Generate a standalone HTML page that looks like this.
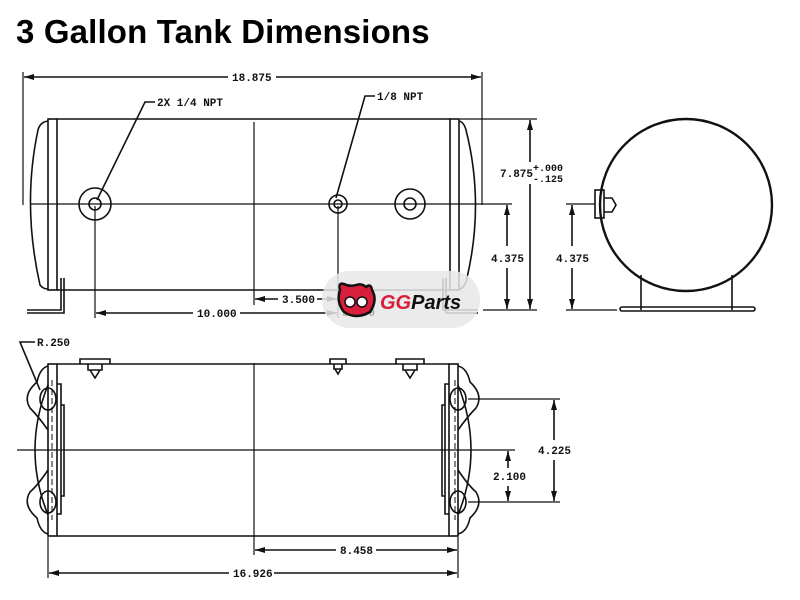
<!DOCTYPE html>
<html><head><meta charset="utf-8"><style>
body{margin:0;background:#fff}
svg{display:block}
.t{font-family:"Liberation Mono",monospace;font-size:11px;fill:#111;font-weight:bold}
</style></head><body>
<svg width="800" height="600" viewBox="0 0 800 600" xmlns="http://www.w3.org/2000/svg">
<defs>
<marker id="a" markerWidth="10" markerHeight="6" refX="10" refY="3" orient="auto-start-reverse" markerUnits="userSpaceOnUse"><path d="M0,0 L10,3 L0,6z" fill="#111"/></marker>
</defs>
<text x="16" y="43" font-family="Liberation Sans,sans-serif" font-weight="bold" font-size="33" fill="#000" letter-spacing="0.15">3 Gallon Tank Dimensions</text>
<g stroke="#111" stroke-width="1.6" fill="none">
<line x1="57" y1="119" x2="450" y2="119"/><line x1="57" y1="290" x2="450" y2="290"/>
<rect x="48" y="119" width="9" height="171"/><rect x="450" y="119" width="9" height="171"/>
<path d="M48,121 Q40,122 38,130 Q22,205 40,285 Q43,289 48,289"/>
<path d="M459,121 Q464,122 466,130 Q485,205 466,282 Q463,289 459,289"/>
<line x1="31" y1="204" x2="512" y2="204" stroke-width="1.2"/>
<line x1="254" y1="122" x2="254" y2="305" stroke-width="1.2"/>
<circle cx="95" cy="204" r="16"/><circle cx="95" cy="204" r="6"/>
<circle cx="338" cy="204" r="9"/><circle cx="338" cy="204" r="4"/>
<circle cx="410" cy="204" r="15"/><circle cx="410" cy="204" r="6"/>
<path d="M61,278 L61,310 L27,310 M64,278 L64,313 L27,313"/>
<path d="M443,278 L443,310 L478,310 M446,278 L446,313 L478,313"/>
<line x1="23" y1="72" x2="23" y2="205" stroke-width="1.2"/>
<line x1="482" y1="72" x2="482" y2="205" stroke-width="1.2"/>
<line x1="24" y1="77" x2="228" y2="77" marker-start="url(#a)"/><line x1="276" y1="77" x2="481" y2="77" marker-end="url(#a)"/>
<path d="M97,200 L145,102 L155,102"/><path d="M336,198 L365,96 L375,96"/>
<line x1="95" y1="206" x2="95" y2="318" stroke-width="1.2"/><line x1="338" y1="206" x2="338" y2="318" stroke-width="1.2"/>
<line x1="96" y1="313" x2="193" y2="313" marker-start="url(#a)"/><line x1="240" y1="313" x2="337" y2="313" marker-end="url(#a)"/>
<line x1="255" y1="299" x2="278" y2="299" marker-start="url(#a)"/><line x1="317" y1="299" x2="337" y2="299" marker-end="url(#a)"/>
<line x1="460" y1="119" x2="537" y2="119" stroke-width="1.2"/><line x1="483" y1="310" x2="537" y2="310" stroke-width="1.2"/>
<line x1="530" y1="120" x2="530" y2="162" marker-start="url(#a)"/><line x1="530" y1="184" x2="530" y2="309" marker-end="url(#a)"/>
<line x1="507" y1="205" x2="507" y2="246" marker-start="url(#a)"/><line x1="507" y1="268" x2="507" y2="309" marker-end="url(#a)"/>
<circle cx="686" cy="205" r="86" stroke-width="2.4"/>
<line x1="641" y1="275" x2="641" y2="310"/><line x1="732" y1="275" x2="732" y2="310"/>
<rect x="620" y="307" width="135" height="4" rx="2"/>
<rect x="595" y="190" width="9" height="28"/><path d="M604,198 L612,198 L616,205 L612,212 L604,212"/>
<line x1="566" y1="204" x2="595" y2="204" stroke-width="1.2"/><line x1="566" y1="310" x2="617" y2="310" stroke-width="1.2"/>
<line x1="572" y1="205" x2="572" y2="246" marker-start="url(#a)"/><line x1="572" y1="268" x2="572" y2="309" marker-end="url(#a)"/>
<line x1="57" y1="364" x2="449" y2="364"/><line x1="57" y1="536" x2="449" y2="536"/>
<rect x="48" y="364" width="9" height="172"/><rect x="449" y="364" width="9" height="172"/>
<path d="M48,366 Q40,368 37,382 Q22,395 30,408 Q38,416 48,430 M48,470 Q38,485 30,492 Q22,505 37,518 Q40,532 48,534"/>
<path d="M48,385 Q22,450 48,515"/>
<path d="M57,384 L61,384 L61,514 L57,514 M61,405 L64,405 L64,496 L61,496"/>
<ellipse cx="48" cy="399" rx="8" ry="11"/><ellipse cx="48" cy="502" rx="8" ry="11"/>
<path d="M458,366 Q467,368 470,382 Q484,395 476,408 Q468,416 458,430 M458,470 Q468,485 476,492 Q484,505 470,518 Q467,532 458,534"/>
<path d="M458,385 Q484,450 458,515"/>
<path d="M449,384 L445,384 L445,514 L449,514 M445,405 L442,405 L442,496 L445,496"/>
<ellipse cx="458" cy="399" rx="8" ry="11"/><ellipse cx="458" cy="502" rx="8" ry="11"/>
<g stroke-dasharray="6,3" stroke-width="1"><line x1="52" y1="380" x2="52" y2="520"/><line x1="455" y1="380" x2="455" y2="520"/></g>
<line x1="17" y1="450" x2="515" y2="450" stroke-width="1.2"/>
<line x1="254" y1="363" x2="254" y2="555" stroke-width="1.2"/>
<path d="M80,364 L80,359 L110,359 L110,364 M88,364 L88,370 L102,370 L102,364 M90,370 L95,378 L100,370"/>
<path d="M330,364 L330,359 L346,359 L346,364 M334,364 L334,369 L342,369 L342,364 M335,369 L338,374 L341,369"/>
<path d="M396,364 L396,359 L424,359 L424,364 M403,364 L403,370 L417,370 L417,364 M405,370 L410,378 L415,370"/>
<path d="M35,342 L20,342 L40,390"/>
<line x1="48" y1="537" x2="48" y2="578" stroke-width="1.2"/><line x1="458" y1="537" x2="458" y2="578" stroke-width="1.2"/>
<line x1="255" y1="550" x2="336" y2="550" marker-start="url(#a)"/><line x1="376" y1="550" x2="457" y2="550" marker-end="url(#a)"/>
<line x1="49" y1="573" x2="229" y2="573" marker-start="url(#a)"/><line x1="274" y1="573" x2="457" y2="573" marker-end="url(#a)"/>
<line x1="468" y1="399" x2="560" y2="399" stroke-width="1.2"/><line x1="468" y1="502" x2="560" y2="502" stroke-width="1.2"/>
<line x1="554" y1="400" x2="554" y2="440" marker-start="url(#a)"/><line x1="554" y1="460" x2="554" y2="501" marker-end="url(#a)"/>
<line x1="508" y1="451" x2="508" y2="468" marker-start="url(#a)"/><line x1="508" y1="486" x2="508" y2="501" marker-end="url(#a)"/>
</g>
<g class="t">
<text x="232" y="81">18.875</text>
<text x="157" y="106">2X 1/4 NPT</text>
<text x="377" y="100">1/8 NPT</text>
<text x="197" y="317">10.000</text>
<text x="282" y="303">3.500</text>
<text x="500" y="177">7.875</text>
<text x="533" y="171" font-size="10">+.000</text>
<text x="533" y="182" font-size="10">-.125</text>
<text x="491" y="262">4.375</text>
<text x="556" y="262">4.375</text>
<text x="37" y="346">R.250</text>
<text x="340" y="554">8.458</text>
<text x="233" y="577">16.926</text>
<text x="538" y="454">4.225</text>
<text x="493" y="480">2.100</text>
</g>
<rect x="322" y="271" width="158" height="57" rx="28" fill="#e8e8e8" opacity="0.85"/>
<text x="342" y="316" class="t" style="fill:#aaa">3.000</text>
<path d="M340,290 Q338,282 344,284 Q350,287 356,285 Q362,283 366,287 Q371,283 372,290 Q378,300 370,312 Q356,320 344,312 Q336,302 340,290z" fill="#d81e3a" stroke="#111" stroke-width="2.5"/>
<circle cx="350" cy="302" r="5" fill="#fff" stroke="#111" stroke-width="1.5"/><circle cx="362" cy="302" r="5" fill="#fff" stroke="#111" stroke-width="1.5"/>
<text x="380" y="309" font-family="Liberation Sans,sans-serif" font-weight="bold" font-style="italic" font-size="20"><tspan fill="#d81e3a">GG</tspan><tspan fill="#111">Parts</tspan></text>
</svg>
</body></html>
